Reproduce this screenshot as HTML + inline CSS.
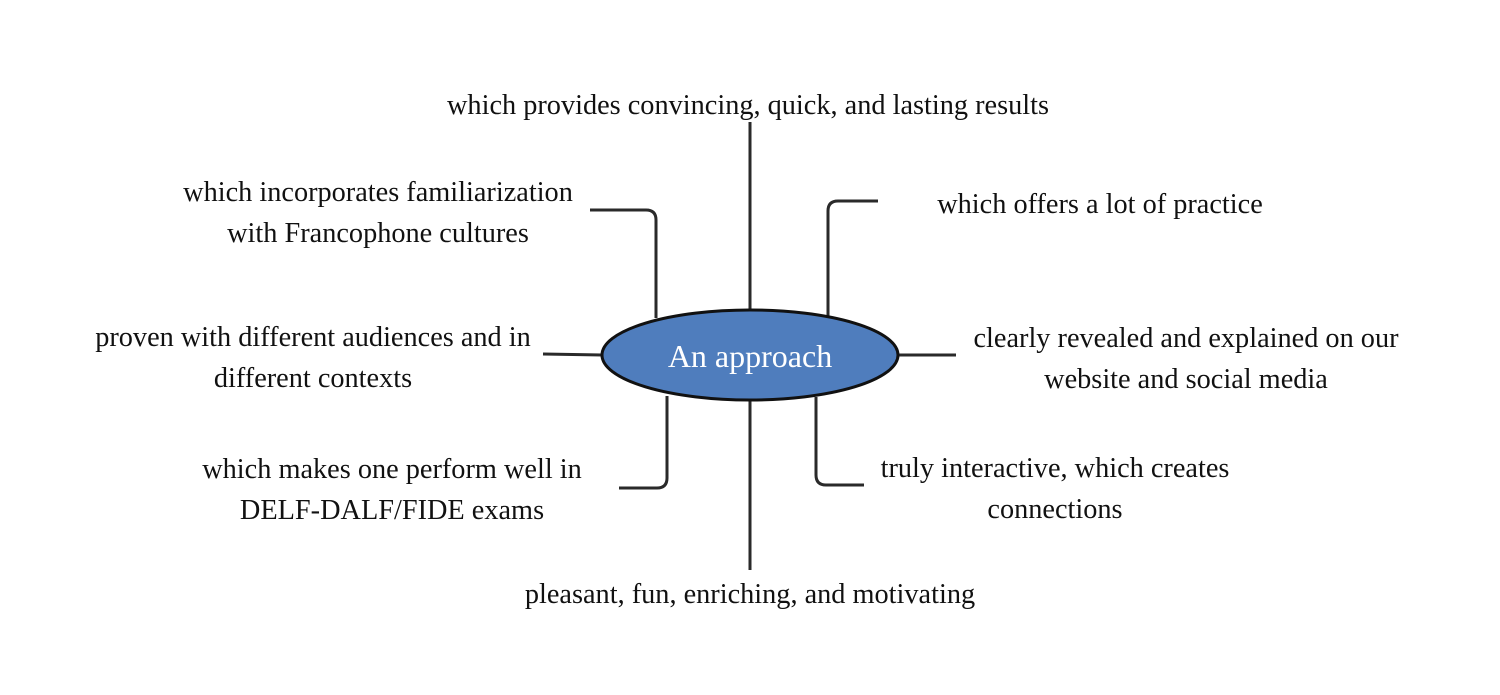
<!DOCTYPE html>
<html><head><style>
body{margin:0;width:1500px;height:695px;background:#fff;overflow:hidden;position:relative;font-family:"Liberation Serif",serif;color:#111}
.t{position:absolute;font-size:28.3px;line-height:41px;text-align:center;white-space:nowrap;transform:translateX(-50%)}
</style></head><body>
<svg width="1500" height="695" style="position:absolute;left:0;top:0">
<g stroke="#2a2a2a" stroke-width="3" fill="none">
<line x1="750" y1="122" x2="750" y2="312"/>
<line x1="750" y1="399" x2="750" y2="570"/>
<path d="M590 210 H646 Q656 210 656 220 V318"/>
<path d="M828 316 V211 Q828 201 838 201 H878"/>
<line x1="543" y1="354" x2="602" y2="355"/>
<line x1="898" y1="355" x2="956" y2="355"/>
<path d="M667 396 V478 Q667 488 657 488 H619"/>
<path d="M816 397 V475 Q816 485 826 485 H864"/>
</g>
<ellipse cx="750" cy="355" rx="148" ry="45" fill="#4f7dbd" stroke="#111" stroke-width="3"/>
<text x="750" y="367" fill="#fff" font-family="Liberation Serif, serif" font-size="32" text-anchor="middle">An approach</text>
</svg>
<div class="t" style="left:748px;top:85px">which provides convincing, quick, and lasting results</div>
<div class="t" style="left:378px;top:172px">which incorporates familiarization<br>with Francophone cultures</div>
<div class="t" style="left:1100px;top:184px">which offers a lot of practice</div>
<div class="t" style="left:313px;top:317px">proven with different audiences and in<br>different contexts</div>
<div class="t" style="left:1186px;top:318px">clearly revealed and explained on our<br>website and social media</div>
<div class="t" style="left:392px;top:449px">which makes one perform well in<br>DELF-DALF/FIDE exams</div>
<div class="t" style="left:1055px;top:448px">truly interactive, which creates<br>connections</div>
<div class="t" style="left:750px;top:574px">pleasant, fun, enriching, and motivating</div>
</body></html>
